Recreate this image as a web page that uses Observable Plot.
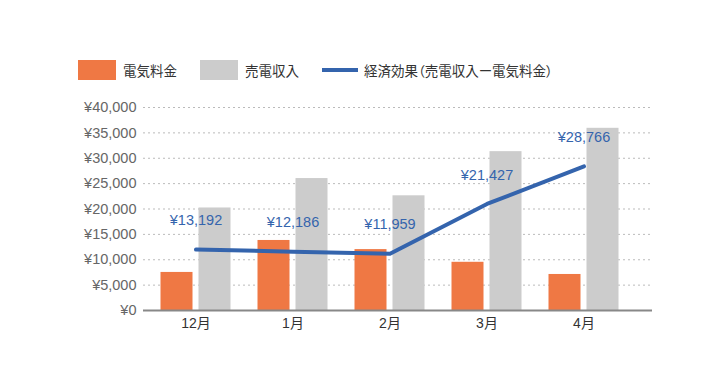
<!DOCTYPE html>
<html><head><meta charset="utf-8">
<script src="https://cdn.jsdelivr.net/npm/d3@7"></script>
<script src="https://cdn.jsdelivr.net/npm/@observablehq/plot@0.6"></script>
<style>
body{margin:0;background:#fff;font-family:"Liberation Sans","Noto Sans CJK JP",sans-serif;}
#legend{height:95px;box-sizing:border-box;padding-top:60px;padding-left:78px;display:flex;align-items:flex-start;font-size:13.5px;color:#333;font-family:"Noto Sans CJK JP",sans-serif;font-feature-settings:"palt";}
.item{display:flex;align-items:center;height:20px;margin-right:0;}
.sw{width:38px;height:20px;margin-right:7px;}
.ln{width:36px;height:4px;margin-right:6px;}
</style></head>
<body>
<div id="legend"></div>
<div id="chart"></div>
<script>
const months = ["12月","1月","2月","3月","4月"];
const denki = [7500,13800,12000,9500,7100];
const baiden = [20200,26000,22600,31300,35900];
const effect = [12000,11600,11200,21000,28400];
const effectLabels = ["¥13,192","¥12,186","¥11,959","¥21,427","¥28,766"];
const yTicks = [0,5000,10000,15000,20000,25000,30000,35000,40000];
const seriesNames = ["電気料金","売電収入","経済効果（売電収入ー電気料金）"];
const colors = ["#ef7844","#cccccc","#3464ad"];

const lg = document.getElementById("legend");
lg.innerHTML = `
<div class="item" style="width:122px"><div class="sw" style="background:${colors[0]}"></div>${seriesNames[0]}</div>
<div class="item" style="width:122px"><div class="sw" style="background:${colors[1]}"></div>${seriesNames[1]}</div>
<div class="item"><div class="ln" style="background:${colors[2]}"></div>${seriesNames[2]}</div>`;

const rows = months.map((m,i)=>({m, denki:denki[i], baiden:baiden[i], effect:effect[i], label:effectLabels[i]}));
const fmt = v => "¥" + d3.format(",")(v);

const chart = Plot.plot({
  width:726, height:295,
  marginLeft:143, marginRight:74, marginTop:12, marginBottom:80,
  style:{fontFamily:'"Liberation Sans","Noto Sans CJK JP",sans-serif', background:"#fff"},
  x:{domain:months, range:[146.5,633], padding:0},
  y:{domain:[0,40000]},
  marks:[
    Plot.ruleY(yTicks.filter(d=>d>0), {stroke:"#bbb", strokeDasharray:"2,3", strokeWidth:1}),
    Plot.axisY({ticks:yTicks, tickFormat:fmt, tickSize:0, tickPadding:7, fontSize:14.5, fill:"#666", label:null}),
    Plot.axisX({tickSize:0, tickPadding:8, fontSize:14, fill:"#333", label:null}),
    Plot.barY(rows, {x:"m", y:"denki", fill:colors[0], insetLeft:13.5, insetRight:51.5}),
    Plot.barY(rows, {x:"m", y:"baiden", fill:colors[1], insetLeft:51.5, insetRight:13.5}),
    Plot.ruleY([0], {stroke:"#888", strokeWidth:2}),
    Plot.lineY(rows, {x:"m", y:"effect", stroke:colors[2], strokeWidth:4}),
    Plot.text(rows, {x:"m", y:"effect", text:"label", dy:-29, fill:colors[2], fontSize:14.5})
  ]
});
document.getElementById("chart").appendChild(chart);
</script>
</body></html>
